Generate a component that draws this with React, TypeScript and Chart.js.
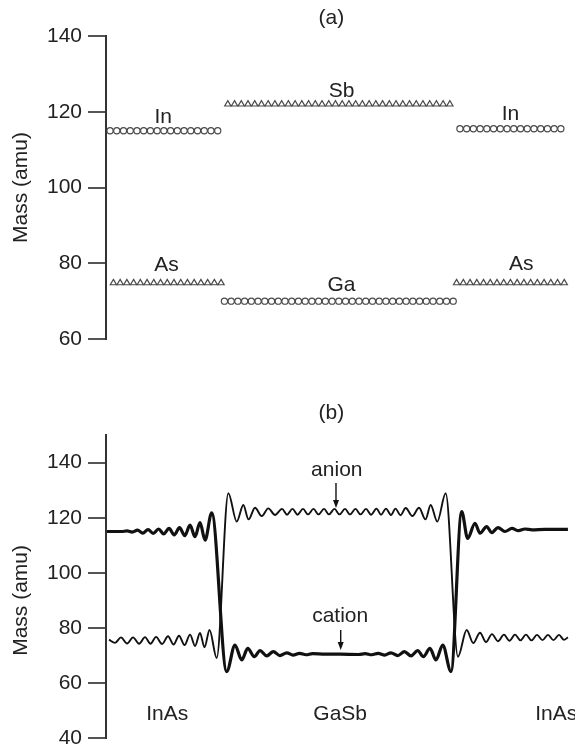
import React, { useEffect, useRef } from 'react';
import { Chart, registerables } from 'chart.js';

Chart.register(...registerables);

const FONT = '"Liberation Sans", Arial, Helvetica, sans-serif';
const FONT_SIZE = 21;
const TEXT = '#222222';
const LINE = '#111111';
const MARK = '#4a4a4a';

// shared layer-position axis (monolayer index)
const X_MIN = -0.6;
const X_MAX = 69.1;

// ---------- Panel (a): atomic masses per layer ----------
const massTicksA = [60, 80, 100, 120, 140];
const inLeftPos = [0, 1, 2, 3, 4, 5, 6, 7, 8, 9, 10, 11, 12, 13, 14, 15, 16];
const asLeftPos = [0.5, 1.5, 2.5, 3.5, 4.5, 5.5, 6.5, 7.5, 8.5, 9.5, 10.5, 11.5, 12.5, 13.5, 14.5, 15.5, 16.5];
const gaPos = [17, 18, 19, 20, 21, 22, 23, 24, 25, 26, 27, 28, 29, 30, 31, 32, 33, 34, 35, 36, 37, 38, 39, 40, 41, 42, 43, 44, 45, 46, 47, 48, 49, 50, 51];
const sbPos = [17.5, 18.5, 19.5, 20.5, 21.5, 22.5, 23.5, 24.5, 25.5, 26.5, 27.5, 28.5, 29.5, 30.5, 31.5, 32.5, 33.5, 34.5, 35.5, 36.5, 37.5, 38.5, 39.5, 40.5, 41.5, 42.5, 43.5, 44.5, 45.5, 46.5, 47.5, 48.5, 49.5, 50.5];
const inRightPos = [52, 53, 54, 55, 56, 57, 58, 59, 60, 61, 62, 63, 64, 65, 66, 67];
const asRightPos = [51.5, 52.5, 53.5, 54.5, 55.5, 56.5, 57.5, 58.5, 59.5, 60.5, 61.5, 62.5, 63.5, 64.5, 65.5, 66.5, 67.5];
const inLeftMass = 115.0;
const asLeftMass = 74.8;
const gaMass = 70.0;
const sbMass = 122.0;
const inRightMass = 115.5;
const asRightMass = 74.8;

// ---------- Panel (b): averaged cation / anion mass ----------
const massTicksB = [40, 60, 80, 100, 120, 140];
const cationPos = [-0.45, 1.74, 2.53, 3.30, 4.09, 4.86, 5.65, 6.42, 7.21, 7.98, 8.77, 9.54, 10.33, 11.10, 11.89, 12.63, 13.37, 14.12, 15.11, 17.34, 18.57, 19.57, 20.46, 21.44, 22.29, 23.28, 24.27, 25.26, 26.26, 27.19, 28.16, 29.12, 30.09, 31.95, 34.18, 36.95, 37.92, 38.89, 39.85, 40.82, 41.75, 42.75, 43.75, 44.73, 45.72, 46.57, 47.55, 48.44, 49.44, 50.67, 52.26, 53.15, 54.24, 54.98, 55.97, 56.72, 57.65, 58.69, 59.73, 60.70, 61.66, 62.71, 64.64, 68.05];
const cationMass = [115.0, 115.0, 115.2, 114.8, 115.5, 114.4, 115.7, 114.3, 115.9, 114.1, 116.1, 113.8, 116.4, 113.5, 117.3, 113.1, 118.2, 111.9, 121.8, 64.2, 73.8, 68.4, 72.6, 69.6, 71.8, 69.9, 71.4, 70.0, 71.0, 70.2, 70.8, 70.3, 70.7, 70.5, 70.5, 70.4, 70.7, 70.3, 70.8, 70.2, 71.0, 70.0, 71.4, 69.9, 71.8, 69.6, 72.6, 68.4, 73.8, 64.2, 122.2, 112.5, 118.0, 114.4, 116.8, 114.6, 116.4, 115.0, 116.1, 115.3, 115.9, 115.6, 115.8, 115.8];
const anionPos = [-0.15, 0.74, 1.63, 2.53, 3.42, 4.31, 5.20, 6.02, 6.84, 7.73, 8.62, 9.44, 10.25, 11.07, 11.89, 12.63, 13.37, 14.04, 14.79, 15.85, 17.58, 18.83, 19.81, 20.58, 21.55, 22.54, 23.52, 24.52, 25.56, 26.30, 27.12, 27.86, 28.68, 29.42, 30.24, 30.98, 31.80, 32.54, 33.36, 34.10, 34.92, 35.66, 36.48, 37.22, 38.04, 38.78, 39.60, 40.27, 41.01, 41.75, 42.42, 43.17, 43.94, 44.92, 45.92, 46.88, 47.65, 48.63, 49.88, 51.71, 53.00, 53.98, 54.98, 55.87, 56.76, 57.65, 58.54, 59.36, 60.18, 61.00, 61.81, 62.63, 63.45, 64.27, 65.08, 65.90, 66.72, 67.46, 68.05];
const anionMass = [75.8, 74.6, 76.6, 74.4, 76.6, 74.3, 76.7, 74.3, 76.8, 74.2, 77.0, 74.0, 77.2, 73.8, 77.6, 73.5, 78.2, 73.0, 79.3, 69.1, 128.9, 118.6, 124.6, 119.4, 123.6, 120.6, 123.4, 121.0, 123.2, 121.1, 123.2, 121.1, 123.2, 121.2, 123.2, 121.2, 123.2, 121.2, 123.2, 121.2, 123.2, 121.2, 123.2, 121.2, 123.2, 121.1, 123.3, 121.1, 123.3, 121.0, 123.3, 120.9, 123.5, 120.6, 123.6, 119.4, 124.6, 118.6, 128.9, 69.6, 79.3, 74.5, 78.3, 74.9, 77.8, 75.2, 77.6, 75.4, 77.6, 75.5, 77.6, 75.5, 77.5, 75.6, 77.5, 75.6, 77.5, 75.7, 76.6];

// ---------- text annotations (data coordinates, alphabetic baseline) ----------
type Label = { text: string; x: number; y: number };
type Arrow = { x: number; from: number; to: number };

const labelsA: Label[] = [
  { text: '(a)', x: 32.9, y: 143.3 },
  { text: 'In', x: 7.9, y: 117.1 },
  { text: 'As', x: 8.4, y: 77.9 },
  { text: 'Sb', x: 34.4, y: 123.8 },
  { text: 'Ga', x: 34.4, y: 72.8 },
  { text: 'In', x: 59.5, y: 117.8 },
  { text: 'As', x: 61.1, y: 78.1 },
];
const labelsB: Label[] = [
  { text: '(b)', x: 32.9, y: 155.7 },
  { text: 'anion', x: 33.7, y: 135.1 },
  { text: 'cation', x: 34.2, y: 82.3 },
  { text: 'InAs', x: 8.5, y: 46.6 },
  { text: 'GaSb', x: 34.2, y: 46.6 },
  { text: 'InAs', x: 66.3, y: 46.6 },
];
const arrowsB: Arrow[] = [
  { x: 33.58, from: 132.6, to: 123.5 },
  { x: 34.28, from: 79.3, to: 72.0 },
];

const pts = (pos: number[], mass: number) => pos.map((x) => ({ x, y: mass }));
const curve = (pos: number[], mass: number[]) => pos.map((x, i) => ({ x, y: mass[i] }));

function annotPlugin(labels: Label[], arrows: Arrow[], axisTitleMid: number) {
  return {
    id: 'annot',
    afterDraw(chart: any) {
      const ctx = chart.ctx as CanvasRenderingContext2D;
      const xs = chart.scales.x;
      const ys = chart.scales.y;
      ctx.save();
      ctx.fillStyle = TEXT;
      ctx.font = `${FONT_SIZE}px ${FONT}`;
      ctx.textAlign = 'center';
      ctx.textBaseline = 'alphabetic';
      labels.forEach((l) => ctx.fillText(l.text, xs.getPixelForValue(l.x), ys.getPixelForValue(l.y)));
      // arrows
      ctx.strokeStyle = LINE;
      ctx.fillStyle = LINE;
      ctx.lineWidth = 1.4;
      arrows.forEach((a) => {
        const px = xs.getPixelForValue(a.x);
        const y0 = ys.getPixelForValue(a.from);
        const y1 = ys.getPixelForValue(a.to);
        ctx.beginPath();
        ctx.moveTo(px, y0);
        ctx.lineTo(px, y1 - 6);
        ctx.stroke();
        ctx.beginPath();
        ctx.moveTo(px - 3, y1 - 8);
        ctx.lineTo(px + 3, y1 - 8);
        ctx.lineTo(px, y1);
        ctx.closePath();
        ctx.fill();
      });
      // y-axis title
      ctx.fillStyle = TEXT;
      ctx.translate(21, ys.getPixelForValue(axisTitleMid));
      ctx.rotate(-Math.PI / 2);
      ctx.textBaseline = 'middle';
      ctx.fillText('Mass (amu)', 0, 0);
      ctx.restore();
    },
  };
}

function yScale(min: number, max: number, ticks: number[]) {
  return {
    type: 'linear',
    min,
    max,
    afterBuildTicks: (s: any) => {
      s.ticks = ticks.map((v) => ({ value: v }));
    },
    afterFit: (s: any) => {
      s.width = 106;
    },
    ticks: { font: { family: FONT, size: FONT_SIZE }, color: TEXT, padding: 6 },
    grid: { drawOnChartArea: false, drawTicks: true, tickLength: 18, color: '#555', lineWidth: 2 },
    border: { display: true, color: '#333', width: 2 },
  };
}

const xScale = { type: 'linear', min: X_MIN, max: X_MAX, display: false };

export default function App() {
  const refA = useRef<HTMLCanvasElement>(null);
  const refB = useRef<HTMLCanvasElement>(null);

  useEffect(() => {
    const circle = (data: any[]) => ({
      data,
      showLine: false,
      pointStyle: 'circle',
      pointRadius: 3.1,
      pointBorderWidth: 1.2,
      pointBorderColor: MARK,
      pointBackgroundColor: 'rgba(255,255,255,0)',
    });
    const tri = (data: any[]) => ({
      data,
      showLine: false,
      pointStyle: 'triangle',
      pointRadius: 3.6,
      pointBorderWidth: 1.2,
      pointBorderColor: MARK,
      pointBackgroundColor: 'rgba(255,255,255,0)',
    });

    const chartA = new Chart(refA.current as HTMLCanvasElement, {
      type: 'scatter',
      data: {
        datasets: [
          circle(pts(inLeftPos, inLeftMass)),
          tri(pts(asLeftPos, asLeftMass)),
          circle(pts(gaPos, gaMass)),
          tri(pts(sbPos, sbMass)),
          circle(pts(inRightPos, inRightMass)),
          tri(pts(asRightPos, asRightMass)),
        ] as any,
      },
      options: {
        responsive: false,
        animation: false,
        devicePixelRatio: 1,
        events: [],
        layout: { autoPadding: false, padding: { top: 36, bottom: 21, left: 0, right: 0 } },
        plugins: { legend: { display: false }, tooltip: { enabled: false }, title: { display: false } },
        scales: { x: xScale as any, y: yScale(60, 140, massTicksA) as any },
      },
      plugins: [annotPlugin(labelsA, [], 100)],
    });

    const chartB = new Chart(refB.current as HTMLCanvasElement, {
      type: 'line',
      data: {
        datasets: [
          {
            data: curve(anionPos, anionMass),
            borderColor: LINE,
            borderWidth: 1.9,
            pointRadius: 0,
            cubicInterpolationMode: 'monotone',
          },
          {
            data: curve(cationPos, cationMass),
            borderColor: LINE,
            borderWidth: 3.2,
            pointRadius: 0,
            cubicInterpolationMode: 'monotone',
          },
        ] as any,
      },
      options: {
        responsive: false,
        animation: false,
        devicePixelRatio: 1,
        events: [],
        layout: { autoPadding: false, padding: { top: 75, bottom: 21.7, left: 0, right: 0 } },
        plugins: { legend: { display: false }, tooltip: { enabled: false }, title: { display: false } },
        scales: { x: xScale as any, y: yScale(40, 150, massTicksB) as any },
      },
      plugins: [annotPlugin(labelsB, arrowsB, 90)],
    });

    return () => {
      chartA.destroy();
      chartB.destroy();
    };
  }, []);

  return (
    <div
      style={{
        position: 'fixed',
        left: 0,
        top: 0,
        width: 575,
        height: 747,
        overflow: 'hidden',
        background: '#ffffff',
      }}
    >
      <canvas
        ref={refA}
        width={575}
        height={360}
        style={{ position: 'absolute', left: 0, top: 0, width: 575, height: 360 }}
      />
      <canvas
        ref={refB}
        width={575}
        height={400}
        style={{ position: 'absolute', left: 0, top: 360, width: 575, height: 400 }}
      />
    </div>
  );
}
